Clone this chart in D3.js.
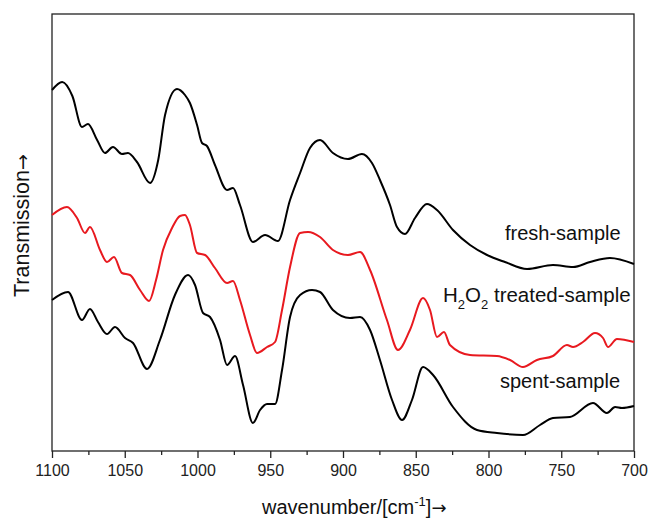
<!DOCTYPE html>
<html>
<head>
<meta charset="utf-8">
<script src="https://cdn.jsdelivr.net/npm/d3@7"></script>
<style>
  body { margin: 0; background: #fff; }
  svg { display: block; font-family: "Liberation Sans", Arial, sans-serif; }
  .axis text { font-size: 16px; fill: #222; }
  .axis path, .axis line { stroke: #222; stroke-width: 1.3; }
  .arrow { font-family: "DejaVu Sans", sans-serif; }
</style>
</head>
<body>
<svg id="chart" width="651" height="523"></svg>
<script>
// wavenumber (cm-1) and transmission (arbitrary units, offset per curve)
var freshWn = [1100, 1093, 1086, 1079.4, 1075.3, 1069, 1063.6, 1058.1, 1051.9, 1047.8, 1041.6, 1032.6, 1027, 1022.3, 1014.1, 1008.6, 1005.2, 1000.3, 996.9, 993.5, 988, 979.7, 975.6, 970.8, 961.9, 953.6, 944.7, 936.4, 929.5, 922.7, 915.8, 906.9, 896.6, 887, 880.1, 874.6, 867.7, 862.9, 857.4, 850.5, 842.3, 835.4, 824.4, 812.7, 801, 788.7, 773.5, 755.7, 741.9, 730.2, 716.5, 700];
var freshT  = [361, 369, 355, 324, 327, 311, 298, 304, 297, 298, 289, 268, 291, 336, 362, 356, 348, 326, 308, 305, 286, 261, 263, 246, 209, 216, 210, 251, 278, 303, 311, 298, 292, 297, 288, 271, 246, 224, 217, 233, 247, 241, 221, 206, 196, 189, 182, 186, 184, 189, 193, 187];

var treatedWn = [1100, 1089.7, 1082.8, 1077.3, 1073.9, 1067, 1062.2, 1057.4, 1051.9, 1046.4, 1039.5, 1033.3, 1028.5, 1023.7, 1017.5, 1012, 1008.6, 1005.2, 1000.3, 994.8, 988, 979.7, 975.6, 970.8, 963.9, 959.1, 952.2, 946.7, 941.9, 936.4, 929.5, 924, 915.8, 906.9, 896.6, 888.3, 881.4, 869.8, 862.2, 854, 845, 840.2, 835.4, 830.6, 826.5, 812.7, 794.2, 785.2, 776.3, 766.7, 755.7, 746.1, 741.9, 735.1, 726.8, 721.3, 717.9, 711.7, 700];
var treatedT  = [236, 244, 233, 218, 224, 201, 189, 194, 178, 176, 161, 150, 171, 201, 223, 235, 236, 226, 198, 196, 183, 168, 170, 151, 116, 98, 104, 109, 141, 184, 218, 219, 214, 201, 196, 199, 181, 131, 101, 121, 153, 141, 114, 119, 106, 96, 95, 91, 84, 91, 95, 106, 104, 109, 118, 113, 104, 112, 109];

var spentWn = [1100, 1089, 1079.4, 1073.9, 1068.4, 1062.2, 1056.7, 1049.8, 1044.3, 1034.7, 1025.8, 1015.5, 1006.5, 1001.7, 996.2, 991.4, 984.5, 979.7, 974.2, 968.7, 961.9, 957, 952.2, 946.7, 941.9, 936.4, 929.5, 921.3, 915.8, 906.9, 895.2, 888.3, 881.4, 874.6, 866.3, 859.4, 852.6, 845, 838.1, 824.4, 807.9, 794.2, 776.3, 764.6, 755.7, 744, 728.2, 718.6, 713, 708.3, 700];
var spentT  = [151, 159, 131, 142, 129, 117, 124, 113, 108, 82, 111, 156, 176, 166, 138, 134, 111, 86, 95, 66, 28, 41, 47, 47, 81, 134, 156, 161, 159, 141, 133, 134, 121, 91, 51, 31, 51, 84, 76, 44, 21, 18, 16, 26, 33, 34, 48, 38, 44, 43, 45];

var xTicks = [1100, 1050, 1000, 950, 900, 850, 800, 750, 700];
var xMinor = [1075, 1025, 975, 925, 875, 825, 775, 725];

var margin = { left: 52, top: 14, right: 17, bottom: 72 };
var width = 651 - margin.left - margin.right;
var height = 523 - margin.top - margin.bottom;

var svg = d3.select("#chart");
var g = svg.append("g").attr("transform", "translate(" + margin.left + "," + margin.top + ")");

var x = d3.scaleLinear().domain([1100, 700]).range([0, width]);
var y = d3.scaleLinear().domain([0, 437]).range([height, 0]);

// minor ticks
g.append("g")
  .attr("class", "axis")
  .attr("transform", "translate(0," + height + ")")
  .call(d3.axisBottom(x).tickValues(xMinor).tickSize(4).tickFormat(""))
  .select(".domain").remove();

// major ticks
var xAxis = g.append("g")
  .attr("class", "axis")
  .attr("transform", "translate(0," + height + ")")
  .call(d3.axisBottom(x).tickValues(xTicks).tickSize(7).tickPadding(7).tickFormat(d3.format("d")));
xAxis.select(".domain").remove();

// frame
g.append("rect")
  .attr("width", width)
  .attr("height", height)
  .attr("fill", "none")
  .attr("stroke", "#222")
  .attr("stroke-width", 1.3);

var line = d3.line()
  .x(function (d) { return x(d[0]); })
  .y(function (d) { return y(d[1]); })
  .curve(d3.curveMonotoneX);

var series = [
  { wn: freshWn, t: freshT, color: "#000" },
  { wn: treatedWn, t: treatedT, color: "#e8191f" },
  { wn: spentWn, t: spentT, color: "#000" }
];

series.forEach(function (s) {
  g.append("path")
    .datum(d3.zip(s.wn, s.t))
    .attr("d", line)
    .attr("fill", "none")
    .attr("stroke", s.color)
    .attr("stroke-width", 2)
    .attr("stroke-linejoin", "round");
});

// curve labels
svg.append("text")
  .attr("x", 505).attr("y", 240)
  .style("font-size", "20px").attr("fill", "#111")
  .text("fresh-sample");

var h2o2 = svg.append("text")
  .attr("x", 443).attr("y", 302)
  .style("font-size", "20.5px").attr("fill", "#111");
h2o2.append("tspan").text("H");
h2o2.append("tspan").attr("dy", 7).style("font-size", "13px").text("2");
h2o2.append("tspan").attr("dy", -7).text("O");
h2o2.append("tspan").attr("dy", 7).style("font-size", "13px").text("2");
h2o2.append("tspan").attr("dy", -7).text(" treated-sample");

svg.append("text")
  .attr("x", 500).attr("y", 388)
  .style("font-size", "20px").attr("fill", "#111")
  .text("spent-sample");

// axis titles
var xt = svg.append("text")
  .attr("x", 262).attr("y", 514)
  .style("font-size", "20px").attr("fill", "#111");
xt.append("tspan").text("wavenumber/[cm");
xt.append("tspan").attr("dy", -8).style("font-size", "13px").text("-1");
xt.append("tspan").attr("dy", 8).text("]");
xt.append("tspan").attr("class", "arrow").style("font-size", "18px").text("\u2192");

var yt = svg.append("text")
  .attr("transform", "translate(29,297) rotate(-90)")
  .style("font-size", "21.5px").attr("fill", "#111");
yt.append("tspan").text("Transmission");
yt.append("tspan").attr("class", "arrow").style("font-size", "19px").text("\u2192");
</script>
</body>
</html>
